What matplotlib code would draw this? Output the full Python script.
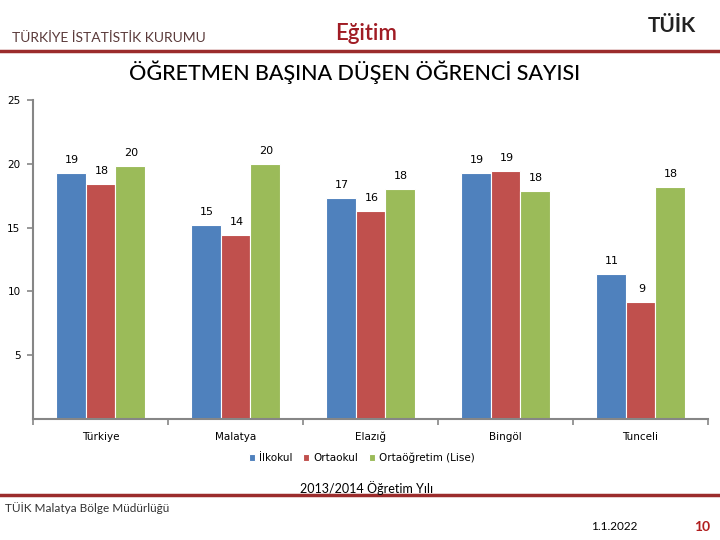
import matplotlib.pyplot as plt
import numpy as np

# veriler
iller = ["Türkiye", "Malatya", "Elazığ", "Bingöl", "Tunceli"]
ilkokul = [19.3, 15.2, 17.3, 19.3, 11.4]
ortaokul = [18.4, 14.4, 16.3, 19.4, 9.2]
ortaogretim = [19.8, 20.0, 18.0, 17.9, 18.2]
seri_adlari = ["İlkokul", "Ortaokul", "Ortaöğretim (Lise)"]
renkler = ["#4F81BD", "#C0504D", "#9BBB59"]
y_ticks = [5, 10, 15, 20, 25]

plt.rcParams['font.family'] = ['Lato', 'DejaVu Sans']

fig = plt.figure(figsize=(7.2, 5.4), dpi=100)
ax = fig.add_axes([33/720, 1-419/540, 675/720, 319/540])

x = np.arange(len(iller))
w = 0.218
for i, (vals, ad, renk) in enumerate(zip([ilkokul, ortaokul, ortaogretim], seri_adlari, renkler)):
    bars = ax.bar(x + (i-1)*w, vals, w, color=renk, edgecolor="white", linewidth=0.8, label=ad)
    for b, v in zip(bars, vals):
        ax.annotate(str(int(round(v))), (b.get_x() + b.get_width()/2, v),
                    xytext=(1, 13), textcoords="offset pixels", ha="center", va="center",
                    fontsize=8, family="DejaVu Sans")

ax.set_xlim(-0.5, len(iller)-0.5)
ax.set_ylim(0, 25)
ax.set_yticks(y_ticks)
ax.set_yticklabels([str(t) for t in y_ticks], fontsize=7.5, family="DejaVu Sans")
ax.set_xticks(x)
ax.set_xticklabels(iller, fontsize=7.5, family="DejaVu Sans")
ax.set_xticks(np.arange(-0.5, len(iller)), minor=True)
ax.tick_params(axis="x", which="major", length=0, pad=9)
ax.tick_params(axis="x", which="minor", length=4, color="#868686", width=1.2)
ax.tick_params(axis="y", length=4, color="#868686", width=1.2, pad=5)
for s in ["top", "right"]:
    ax.spines[s].set_visible(False)
for s in ["left", "bottom"]:
    ax.spines[s].set_color("#868686")
    ax.spines[s].set_linewidth(1.5)

ax.legend(loc="center", bbox_to_anchor=(362/720, 1-458/540), bbox_transform=fig.transFigure,
          ncol=3, frameon=False, handlelength=0.6, handleheight=0.6,
          handletextpad=0.4, columnspacing=1.0, prop={"family": "DejaVu Sans", "size": 7.5})

# baslik ve sayfa ogeleri
fig.text(12/720, 1-38/540, "TÜRKİYE İSTATİSTİK KURUMU", fontsize=10, color="#5A3A3A", va="center")
fig.text(366/720, 1-34/540, "Eğitim", fontsize=16, color="#A01C24", ha="center", va="center", weight="semibold")
fig.text(672/720, 1-26/540, "TÜİK", fontsize=15, color="#222222", ha="center", va="center", weight="bold")
fig.text(355/720, 1-72/540, "ÖĞRETMEN BAŞINA DÜŞEN ÖĞRENCİ SAYISI", fontsize=15.5, color="black",
         ha="center", va="center", weight="medium")
fig.add_artist(plt.Line2D([0, 1], [1-51/540, 1-51/540], color="#9B2C2C", linewidth=2.5))
fig.add_artist(plt.Line2D([0, 1], [1-495/540, 1-495/540], color="#9B2C2C", linewidth=2.5))
fig.text(367/720, 1-488/540, "2013/2014 Öğretim Yılı", fontsize=9, ha="center", va="center")
fig.text(5/720, 1-508/540, "TÜİK Malatya Bölge Müdürlüğü", fontsize=8.5, color="#333333", va="center")
fig.text(614/720, 1-527/540, "1.1.2022", fontsize=8.5, ha="center", va="center")
fig.text(702/720, 1-527/540, "10", fontsize=10, color="#B01E1E", ha="center", va="center", weight="bold")

plt.savefig("out.png", dpi=100)
